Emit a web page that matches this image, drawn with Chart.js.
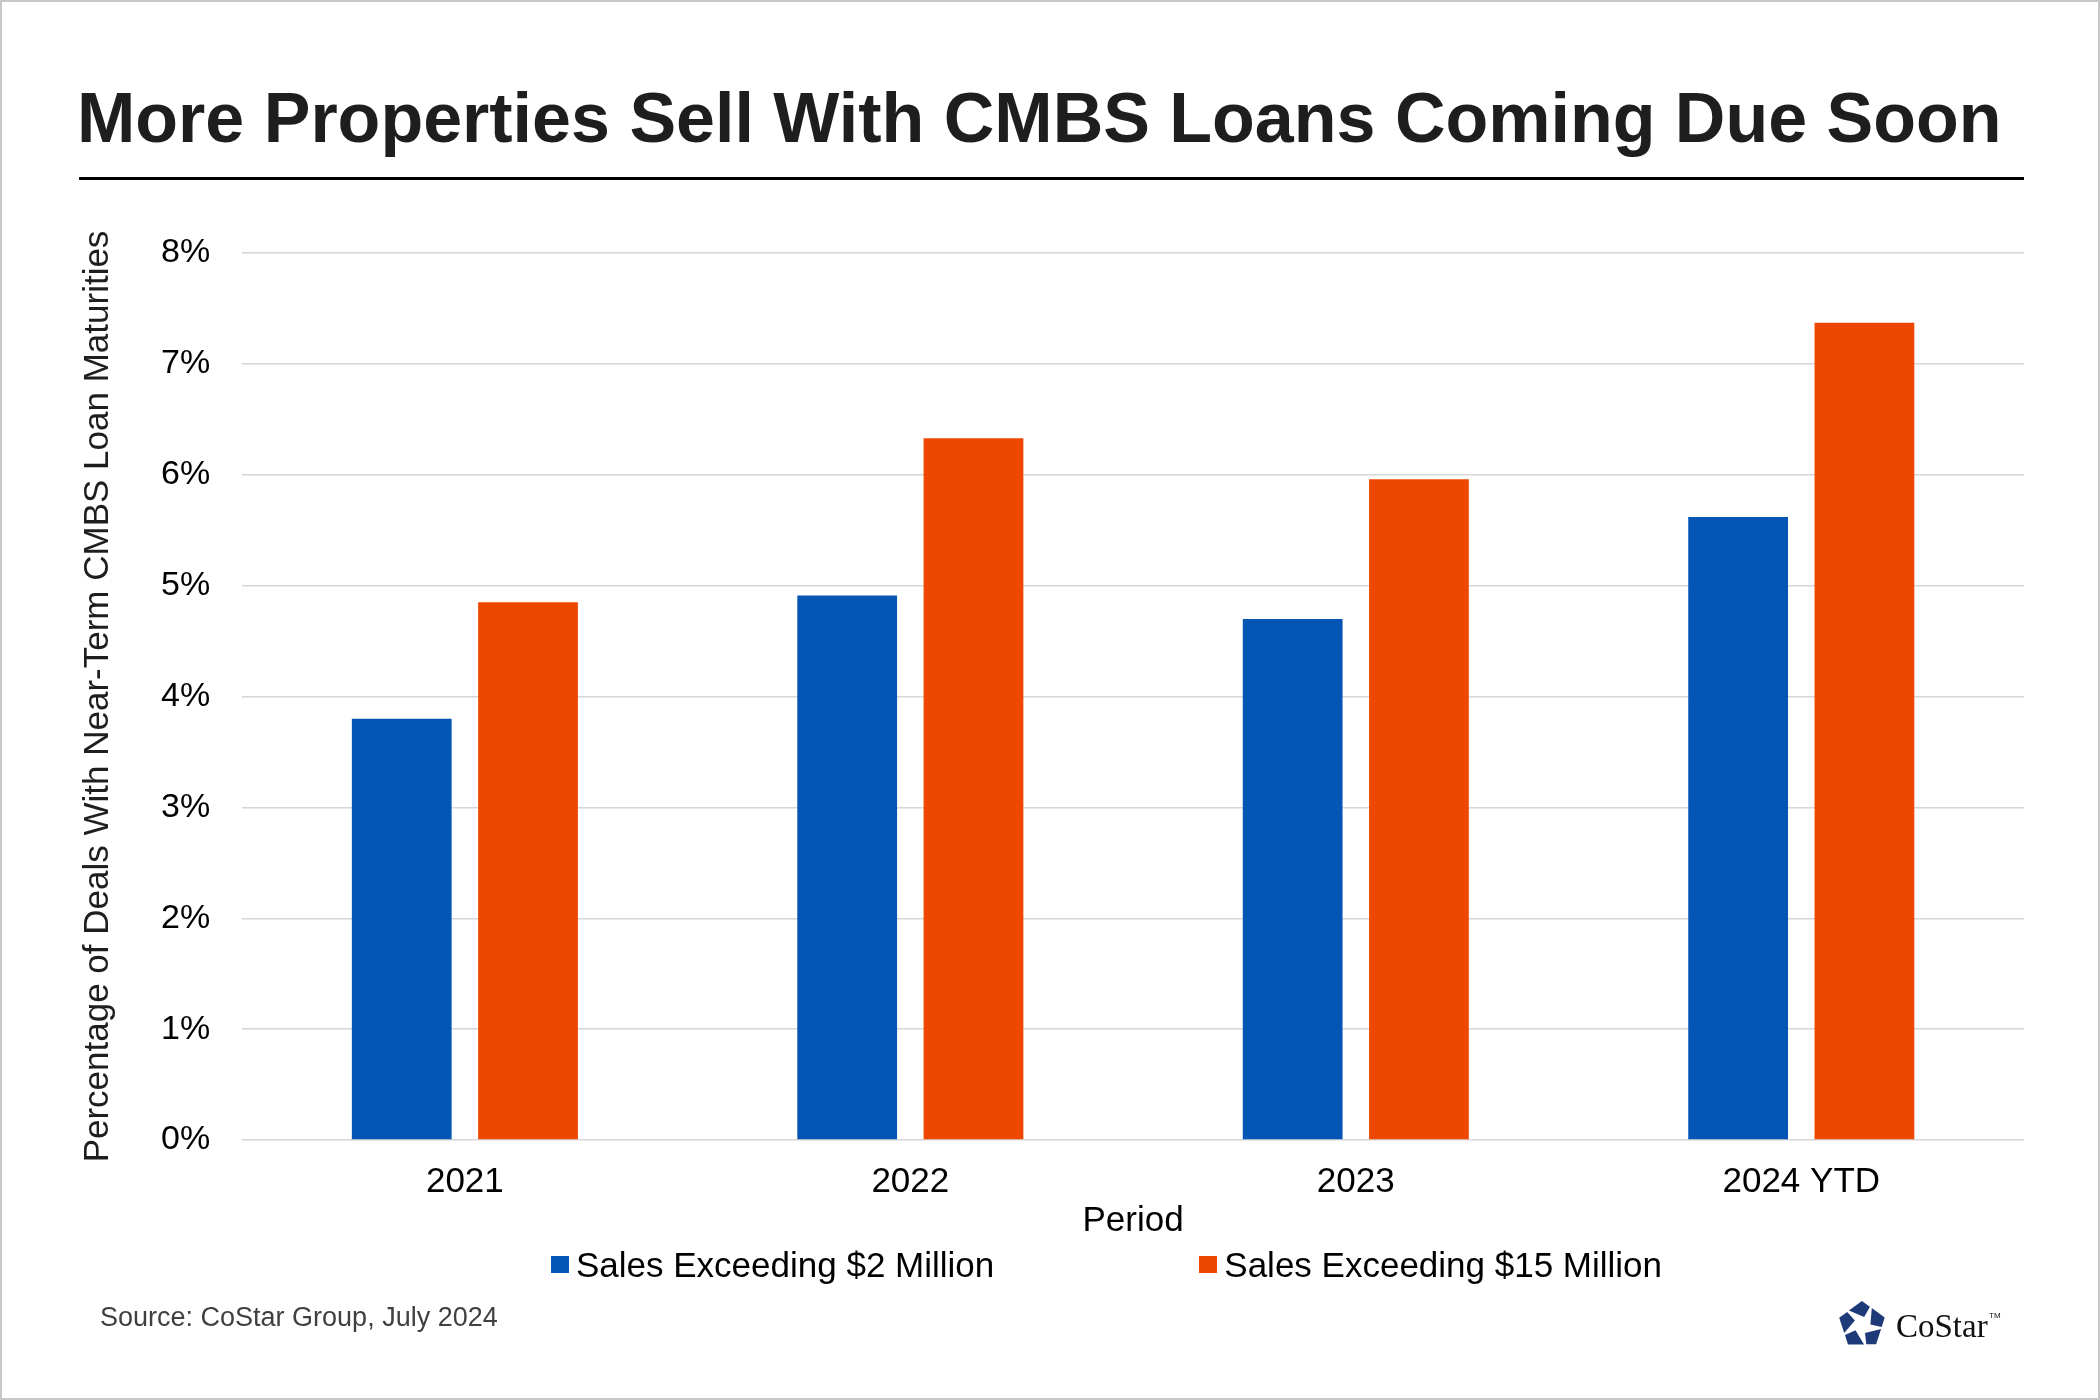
<!DOCTYPE html>
<html>
<head>
<meta charset="utf-8">
<title>More Properties Sell With CMBS Loans Coming Due Soon</title>
<script src="https://cdn.jsdelivr.net/npm/chart.js@4.4.1/dist/chart.umd.min.js"></script>
<style>
    html, body { margin: 0; padding: 0; background: #ffffff; overflow: hidden; }
    #page {
        position: relative;
        width: 2100px;
        height: 1400px;
        box-sizing: border-box;
        border: 2px solid #c8c8c8;
        font-family: "Liberation Sans", Arial, sans-serif;
    }
    #title {
        position: absolute;
        left: 75px;
        top: 81px;
        margin: 0;
        font-size: 70px;
        line-height: 1;
        font-weight: bold;
        color: #1e1e1e;
        white-space: nowrap;
    }
    #rule {
        position: absolute;
        left: 77px;
        top: 175px;
        width: 1945px;
        height: 3px;
        background: #000000;
    }
    #graficaCmbs {
        position: absolute;
        left: -2px;
        top: -2px;
    }
    #legend {
        position: absolute;
        left: 549px;
        top: 1245px;
        display: flex;
        gap: 205px;
        font-size: 35px;
        line-height: 1;
        color: #000000;
    }
    .legend-item { display: flex; align-items: center; white-space: nowrap; }
    .legend-box { width: 18px; height: 17px; margin-right: 7px; }
    #source {
        position: absolute;
        left: 98px;
        top: 1302px;
        font-size: 27px;
        line-height: 1;
        color: #404040;
    }
    #logo {
        position: absolute;
        left: 1834px;
        top: 1296px;
    }
</style>
</head>
<body>
<div id="page">
    <h1 id="title">More Properties Sell With CMBS Loans Coming Due Soon</h1>
    <div id="rule"></div>
    <canvas id="graficaCmbs" width="2100" height="1400"></canvas>
    <div id="legend"></div>
    <div id="source">Source: CoStar Group, July 2024</div>
    <svg id="logo" width="180" height="54" viewBox="0 0 180 54">
        <g id="logoStar" fill="#1f3a78" transform="translate(26,27)"></g>
        <text x="60" y="39" font-family="'Liberation Serif', 'DejaVu Serif', serif" font-size="33" fill="#111111">CoStar</text>
        <text x="153" y="20" font-family="'Liberation Sans', Arial, sans-serif" font-size="8" fill="#111111">TM</text>
    </svg>
</div>
<script>
// Chart data:
const periodos = ["2021", "2022", "2023", "2024 YTD"];
const ventas2M = [3.80, 4.91, 4.70, 5.62];
const ventas15M = [4.85, 6.33, 5.96, 7.37];
const ticksY = [0, 1, 2, 3, 4, 5, 6, 7, 8];

const seriesLabels = ["Sales Exceeding $2 Million", "Sales Exceeding $15 Million"];
const seriesColors = ["#0455b4", "#ee4800"];

const fontFamily = "'Liberation Sans', Arial, sans-serif";

// Init page:
document.addEventListener("DOMContentLoaded", function ()
{
    const chart = drawChart("graficaCmbs");
    drawLegend("legend", chart);
    drawLogo("logoStar");
});

// Draw bar chart:
function drawChart(canvas)
{
    const ctx = document.getElementById(canvas).getContext("2d");

    return new Chart(ctx,
    {
        type: "bar",
        data: {
            labels: periodos,
            datasets: [
                {label: seriesLabels[0], data: ventas2M, backgroundColor: seriesColors[0]},
                {label: seriesLabels[1], data: ventas15M, backgroundColor: seriesColors[1]}
            ]
        },
        options: {
            responsive: false,
            animation: false,
            devicePixelRatio: 1,
            categoryPercentage: 0.567,
            barPercentage: 0.79,
            layout: {
                padding: {left: 74, right: 76, top: 253, bottom: 162}
            },
            plugins: {
                legend: {display: false},
                tooltip: {enabled: false}
            },
            scales: {
                x: {
                    grid: {display: false},
                    border: {display: false},
                    ticks: {
                        color: "#000000",
                        padding: 13,
                        font: {family: fontFamily, size: 35}
                    },
                    title: {
                        display: true,
                        text: "Period",
                        color: "#000000",
                        padding: {top: -16, bottom: -4},
                        font: {family: fontFamily, size: 35}
                    }
                },
                y: {
                    min: 0,
                    max: 8,
                    afterBuildTicks: function (scale)
                    {
                        scale.ticks = ticksY.map(function (v) { return {value: v}; });
                    },
                    grid: {color: "#d6d6d6", lineWidth: 1.5, drawTicks: false},
                    border: {display: false},
                    ticks: {
                        color: "#000000",
                        padding: 32,
                        font: {family: fontFamily, size: 34},
                        callback: function (value) { return value + "%"; }
                    },
                    title: {
                        display: true,
                        text: "Percentage of Deals With Near-Term CMBS Loan Maturities",
                        color: "#1e1e1e",
                        padding: {top: 3, bottom: 10},
                        font: {family: fontFamily, size: 35}
                    }
                }
            }
        }
    });
}

// Render legend HTML from datasets:
function drawLegend(container, chart)
{
    const legend = document.getElementById(container);

    chart.data.datasets.forEach(function (dataset)
    {
        const item = document.createElement("div");
        item.className = "legend-item";

        const box = document.createElement("span");
        box.className = "legend-box";
        box.style.background = dataset.backgroundColor;

        const text = document.createElement("span");
        text.textContent = dataset.label;

        item.appendChild(box);
        item.appendChild(text);
        legend.appendChild(item);
    });
}

// CoStar mark: pentagon cut in five pieces by a pinwheel star:
function drawLogo(group)
{
    const g = document.getElementById(group);
    const R = 25;
    const t = 0.38;
    const shrink = 0.88;

    const vertex = function (j)
    {
        const a = (-90 + 72 * j) * Math.PI / 180;
        return [R * Math.cos(a), R * Math.sin(a)];
    };
    const edgePoint = function (j)
    {
        const a = vertex(j);
        const b = vertex(j + 1);
        return [a[0] + (b[0] - a[0]) * t, a[1] + (b[1] - a[1]) * t];
    };
    const innerPoint = function (j)
    {
        const a = (-90 + 72 * j + 20) * Math.PI / 180;
        return [R * 0.3 * Math.cos(a), R * 0.3 * Math.sin(a)];
    };

    for (let j = 0; j < 5; j++)
    {
        const pts = [edgePoint(j - 1), vertex(j), edgePoint(j), innerPoint(j)];
        const cx = (pts[0][0] + pts[1][0] + pts[2][0] + pts[3][0]) / 4;
        const cy = (pts[0][1] + pts[1][1] + pts[2][1] + pts[3][1]) / 4;

        const poly = document.createElementNS("http://www.w3.org/2000/svg", "polygon");
        poly.setAttribute("points", pts.map(function (p)
        {
            const x = cx + (p[0] - cx) * shrink;
            const y = cy + (p[1] - cy) * shrink;
            return x.toFixed(1) + "," + y.toFixed(1);
        }).join(" "));
        g.appendChild(poly);
    }
}
</script>
</body>
</html>
